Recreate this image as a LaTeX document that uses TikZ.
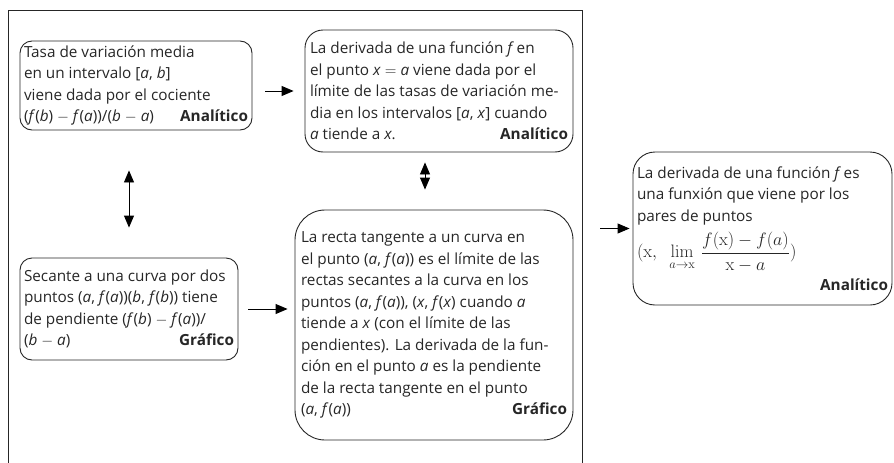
\RequirePackage{fix-cm}
\documentclass[tikz,border=0pt]{standalone}
\usepackage[no-math]{fontspec}
\setmainfont{Open Sans}
\usepackage{amsmath}
\usetikzlibrary{positioning,arrows.meta,calc}

\begin{document}
\begin{tikzpicture}[x=1pt, y=-1pt,
  idea/.style  = {rectangle, draw=black!85, line width=0.9pt, inner xsep=4pt,
                  inner ysep=2pt, align=justify, font=\fontsize{15.3}{21.5}\selectfont,
                  text=black!85},
  arr/.style   = {-{Triangle[length=12pt, width=10pt]}, line width=0.9pt},
  darr/.style  = {{Triangle[length=12pt, width=10pt]}-{Triangle[length=12pt, width=10pt]},
                  line width=0.9pt},
]
\useasboundingbox (0,0) rectangle (894,463);
% open frame round the left part
\coordinate (fbl) at (8,463);
\coordinate (ftl) at (8,10);
\coordinate (ftr) at (582,10);
\coordinate (fbr) at (582,463);
\draw[line width=0.9pt, black!85] (fbl) -- (ftl) -- (ftr) -- (fbr);
% boxes
\node[idea, rounded corners=12pt, minimum width=232pt, minimum height=89pt,
      text width=224pt] (tasa) at (136, 85.5)
  {Tasa de variación media\\
   en un intervalo [\textit{a}, \textit{b}]\\
   viene dada por el cociente\\
   (\textit{f}(\textit{b}) $-$ \textit{f}(\textit{a}))/(\textit{b} $-$ \textit{a})\hfill\textbf{Analítico}};
\node[idea, rounded corners=18pt, minimum width=268pt, minimum height=122pt,
      text width=258pt] (deriv) at (439, 91)
  {La derivada de una función \textit{f}\,en\\
   el punto \textit{x} $=$ \textit{a} viene dada por el\\
   límite de las tasas de variación me-\\
   dia en los intervalos [\textit{a}, \textit{x}] cuando\\
   \textit{a} tiende a \textit{x}.\hfill\textbf{Analítico}};
\node[idea, rounded corners=12pt, minimum width=218pt, minimum height=102pt,
      text width=210pt] (secante) at (129, 309)
  {Secante a una curva por dos\\
   puntos (\textit{a}, \textit{f}(\textit{a}))(\textit{b}, \textit{f}(\textit{b})) tiene\\
   de pendiente (\textit{f}(\textit{b}) $-$ \textit{f}(\textit{a}))/\\
   (\textit{b} $-$ \textit{a})\hfill\textbf{Gráfico}};
\node[idea, rounded corners=30pt, minimum width=278pt, minimum height=230pt,
      text width=266pt] (tangente) at (434, 325)
  {La recta tangente a un curva en\\
   el punto (\textit{a}, \textit{f}(\textit{a})) es el límite de las\\
   rectas secantes a la curva en los\\
   puntos (\textit{a}, \textit{f}(\textit{a})), (\textit{x}, \textit{f}(\textit{x}) cuando \textit{a}\\
   tiende a \textit{x} (con el límite de las\\
   pendientes). La derivada de la fun-\\
   ción en el punto \textit{a} es la pendiente\\
   de la recta tangente en el punto\\
   (\textit{a}, \textit{f}(\textit{a}))\hfill\textbf{Gráfico}};
\node[idea, rounded corners=22pt, minimum width=259pt, minimum height=153pt,
      text width=251pt] (funcion) at (762.5, 228.5)
  {La derivada de una función \textit{f}\,es\\
   una funxión que viene por los\\
   pares de puntos\\[6pt]
   {\fontsize{18}{22}\selectfont
   $(\mathrm{x},\ \ \lim\limits_{a\to \mathrm{x}}\,\dfrac{f(\mathrm{x})-f(a)}{\mathrm{x}-a})$}\\[6pt]
   \hspace*{\fill}\textbf{Analítico}};
% arrows
\draw[arr, shorten <=13pt, shorten >=11pt] (tasa.east |- deriv.west) -- (deriv.west);
\draw[arr, shorten <=10pt, shorten >=7pt] (secante.east) -- (secante.east -| tangente.west);
\draw[darr, shorten <=40pt, shorten >=30pt] (tasa.south -| secante.north) -- (secante.north);
\draw[darr, shorten <=10pt, shorten >=20pt] ([xshift=-14pt]deriv.south) -- ([xshift=-14pt]deriv.south |- tangente.north);
\draw[arr, shorten <=18pt, shorten >=3pt] (funcion.west -| ftr) -- (funcion.west);
\end{tikzpicture}
\end{document}
